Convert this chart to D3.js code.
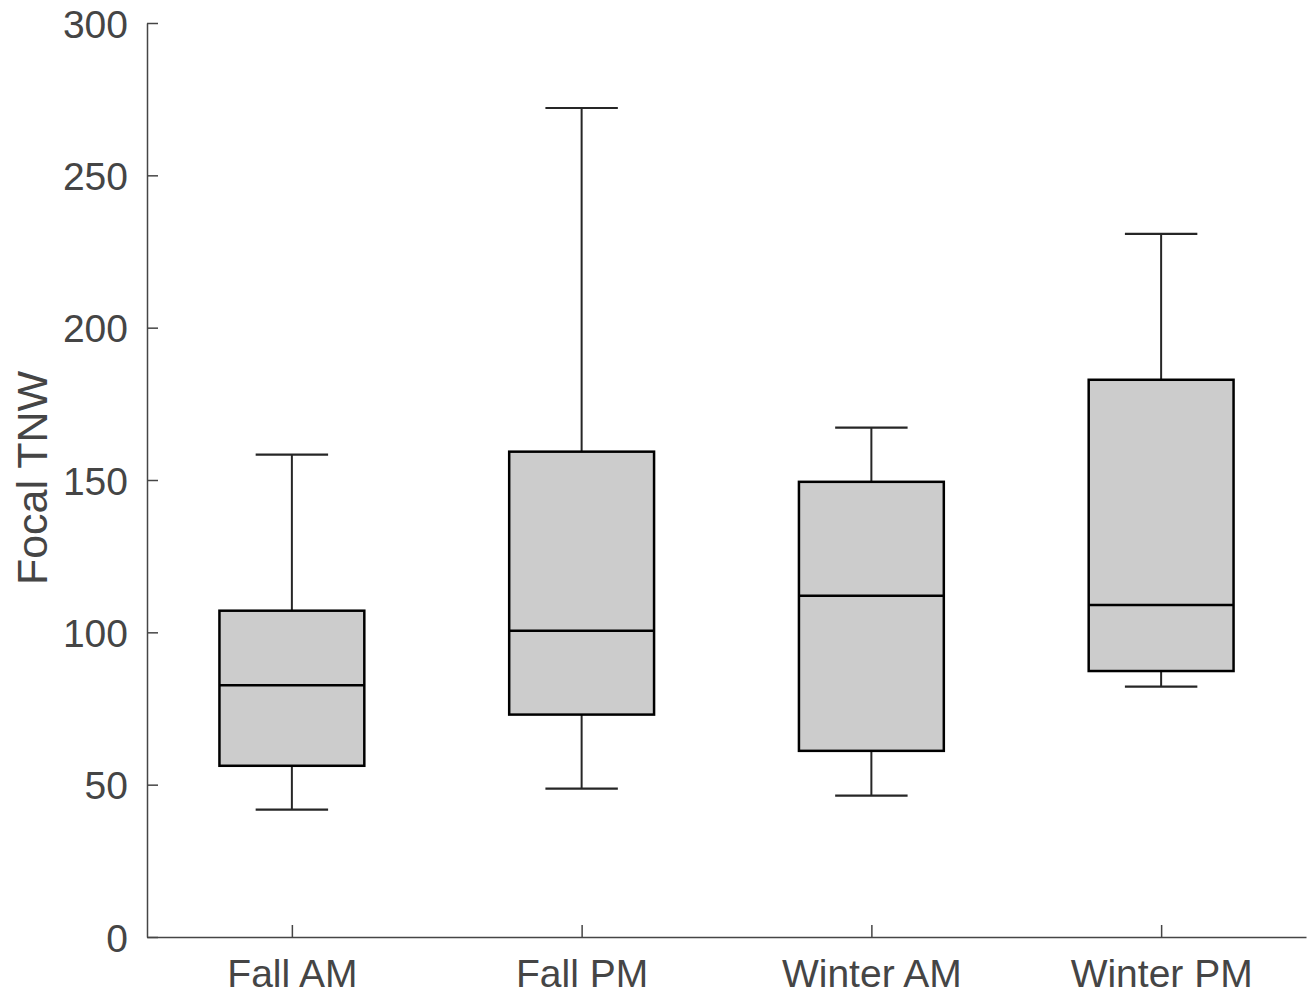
<!DOCTYPE html>
<html>
<head>
<meta charset="utf-8">
<script src="https://cdn.jsdelivr.net/npm/d3@7"></script>
<style>
  body { margin: 0; background: #fff; }
  text { font-family: "Liberation Sans", Arial, sans-serif; }
</style>
</head>
<body>
<svg width="1310" height="995"></svg>
<script>
// box stats
const groups = ["Fall AM", "Fall PM", "Winter AM", "Winter PM"];
const lowWhisker = [41.8, 48.7, 46.4, 82.2];
const q1 = [56.2, 73.0, 61.1, 87.3];
const median = [82.6, 100.5, 112.0, 109.0];
const q3 = [107.1, 159.3, 149.4, 182.9];
const highWhisker = [158.3, 272.1, 167.2, 230.8];
const yTicks = [0, 50, 100, 150, 200, 250, 300];

const svg = d3.select('svg');
const plotLeft = 147, plotRight = 1306, plotTop = 23, plotBottom = 937;
const axisColor = '#454545';

// x: positions 1..4, limits 0.5..4.5 (like matlab boxplot)
const x = d3.scaleLinear().domain([0.5, 4.5]).range([plotLeft, plotRight]);
const y = d3.scaleLinear().domain([0, 300]).range([plotBottom, plotTop]);

const data = groups.map((g, i) => ({
  name: g, pos: i + 1,
  lo: lowWhisker[i], q1: q1[i], med: median[i], q3: q3[i], hi: highWhisker[i]
}));

// axes (ticks point inward, no outer ticks)
const yAxis = d3.axisLeft(y).tickValues(yTicks)
  .tickSizeInner(-11).tickSizeOuter(0).tickPadding(19);
const gy = svg.append('g').attr('transform', `translate(${plotLeft},0)`).call(yAxis);
const xAxis = d3.axisBottom(x).tickValues([1, 2, 3, 4])
  .tickFormat(d => groups[d - 1]).tickSizeInner(-12).tickSizeOuter(0).tickPadding(22);
const gx = svg.append('g').attr('transform', `translate(0,${plotBottom})`).call(xAxis);

[gy, gx].forEach(g => {
  g.select('.domain').attr('stroke', axisColor).attr('stroke-width', 1.5);
  g.selectAll('.tick line').attr('stroke', axisColor).attr('stroke-width', 1.5);
  g.selectAll('.tick text').attr('fill', axisColor).style('font-size', '39px');
});
gy.selectAll('.tick text').attr('dy', '0.36em');
gx.selectAll('.tick text').attr('dy', '0.72em');

svg.append('text')
  .attr('transform', `translate(47,478) rotate(-90)`)
  .attr('text-anchor', 'middle')
  .attr('fill', axisColor)
  .style('font-size', '43px')
  .text('Focal TNW');

// boxes
const boxW = x(1.25) - x(1);   // half width of box (0.25 units)
const capW = x(1.125) - x(1);  // half width of cap

const box = svg.append('g').selectAll('g')
  .data(data).enter().append('g');

// whiskers
box.append('line')
  .attr('x1', d => x(d.pos)).attr('x2', d => x(d.pos))
  .attr('y1', d => y(d.q3)).attr('y2', d => y(d.hi))
  .attr('stroke', '#262626').attr('stroke-width', 2);
box.append('line')
  .attr('x1', d => x(d.pos)).attr('x2', d => x(d.pos))
  .attr('y1', d => y(d.q1)).attr('y2', d => y(d.lo))
  .attr('stroke', '#262626').attr('stroke-width', 2);
// caps
box.append('line')
  .attr('x1', d => x(d.pos) - capW).attr('x2', d => x(d.pos) + capW)
  .attr('y1', d => y(d.hi)).attr('y2', d => y(d.hi))
  .attr('stroke', '#262626').attr('stroke-width', 2.2);
box.append('line')
  .attr('x1', d => x(d.pos) - capW).attr('x2', d => x(d.pos) + capW)
  .attr('y1', d => y(d.lo)).attr('y2', d => y(d.lo))
  .attr('stroke', '#262626').attr('stroke-width', 2.2);

box.append('rect')
  .attr('x', d => x(d.pos) - boxW)
  .attr('width', 2 * boxW)
  .attr('y', d => y(d.q3))
  .attr('height', d => y(d.q1) - y(d.q3))
  .attr('fill', '#cccccc')
  .attr('stroke', '#000')
  .attr('stroke-width', 2.5);

box.append('line')
  .attr('x1', d => x(d.pos) - boxW).attr('x2', d => x(d.pos) + boxW)
  .attr('y1', d => y(d.med)).attr('y2', d => y(d.med))
  .attr('stroke', '#000').attr('stroke-width', 2.5);
</script>
</body>
</html>
